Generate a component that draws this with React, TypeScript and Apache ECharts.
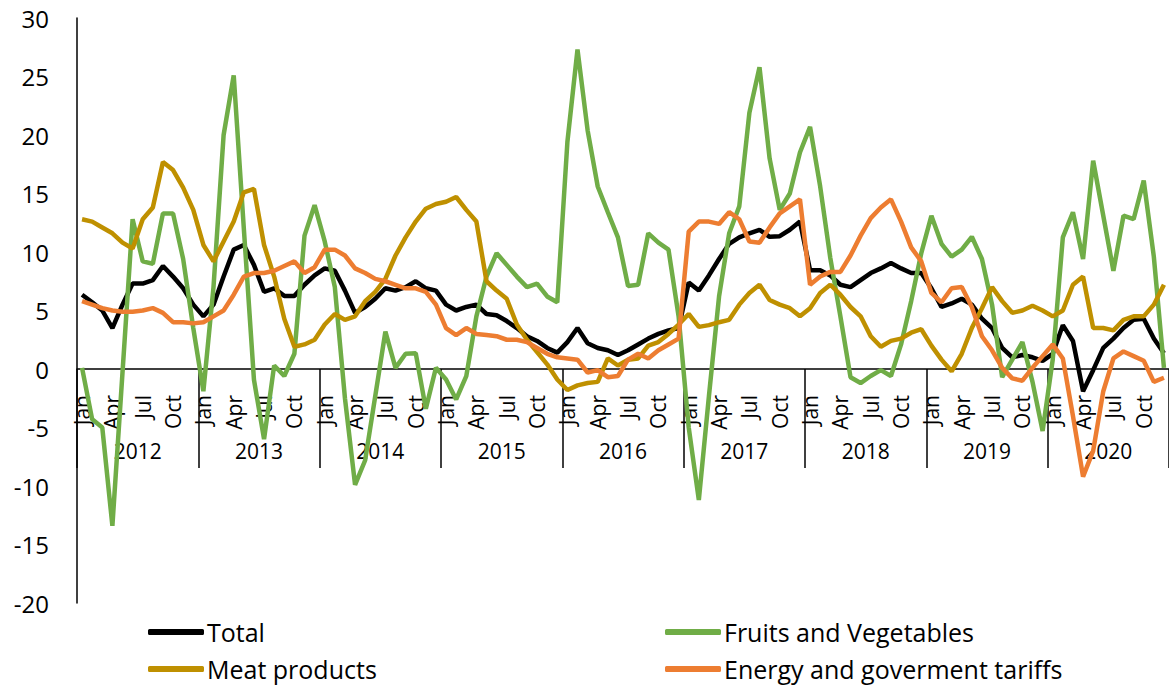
import React, { useEffect, useRef } from "react";
import * as echarts from "echarts";

const years = ["2012", "2013", "2014", "2015", "2016", "2017", "2018", "2019", "2020"];
const monthNames = ["Jan", "Feb", "Mar", "Apr", "May", "Jun", "Jul", "Aug", "Sep", "Oct", "Nov", "Dec"];
const categories: string[] = [];
years.forEach((y) => monthNames.forEach((m) => categories.push(m + " " + y)));

const total = [
  6.35, 5.7, 5.0, 3.5, 5.5, 7.3, 7.3, 7.6, 8.8, 7.9, 6.9, 5.5,
  4.5, 5.5, 7.9, 10.2, 10.6, 8.9, 6.6, 6.9, 6.25, 6.25, 7.2, 8.0,
  8.6, 8.4, 6.7, 4.8, 5.3, 6.0, 6.9, 6.7, 7.0, 7.5, 6.9, 6.7,
  5.5, 5.0, 5.3, 5.5, 4.7, 4.6, 4.1, 3.5, 2.8, 2.4, 1.8, 1.4,
  2.3, 3.5, 2.2, 1.8, 1.6, 1.2, 1.6, 2.1, 2.6, 3.0, 3.3, 3.5,
  7.4, 6.7, 8.0, 9.4, 10.7, 11.25, 11.6, 11.9, 11.3, 11.35, 11.9, 12.6,
  8.45, 8.45, 8.0, 7.2, 7.0, 7.6, 8.2, 8.6, 9.05, 8.6, 8.2, 8.2,
  6.9, 5.3, 5.6, 6.0, 5.5, 4.3, 3.5, 1.8, 1.0, 1.2, 1.0, 0.7,
  1.3, 3.75, 2.4, -1.9, -0.1, 1.8, 2.6, 3.5, 4.2, 4.3, 2.6, 1.35,
];

const fruits = [
  0.1, -4.3, -5.0, -13.4, -0.3, 12.8, 9.2, 9.0, 13.3, 13.3, 9.4, 3.5,
  -1.9, 7.0, 20.0, 25.1, 12.0, -0.9, -6.0, 0.3, -0.6, 1.3, 11.4, 14.0,
  10.9, 7.0, -2.5, -9.9, -7.8, -2.3, 3.2, 0.1, 1.3, 1.35, -3.4, 0.1,
  -0.9, -2.6, -0.6, 4.5, 7.9, 9.9, 8.9, 7.9, 7.0, 7.3, 6.2, 5.7,
  19.4, 27.3, 20.4, 15.6, 13.4, 11.25, 7.1, 7.2, 11.6, 10.8, 10.2, 4.5,
  -5.0, -11.2, -2.3, 6.2, 11.6, 13.9, 21.9, 25.8, 18.0, 13.6, 15.0, 18.5,
  20.7, 15.6, 9.5, 4.5, -0.7, -1.2, -0.6, -0.1, -0.6, 2.1, 5.8, 9.9,
  13.1, 10.7, 9.6, 10.2, 11.3, 9.4, 5.5, -0.7, 0.8, 2.3, -1.1, -5.3,
  0.8, 11.25, 13.4, 9.4, 17.8, 13.1, 8.4, 13.1, 12.8, 16.1, 9.6, 0.1,
];

const meat = [
  12.8, 12.6, 12.1, 11.6, 10.8, 10.3, 12.8, 13.8, 17.7, 17.0, 15.5, 13.6,
  10.6, 9.2, 10.9, 12.6, 15.1, 15.4, 10.6, 7.9, 4.3, 1.9, 2.1, 2.5,
  3.8, 4.7, 4.2, 4.5, 5.8, 6.6, 7.7, 9.7, 11.25, 12.6, 13.7, 14.1,
  14.3, 14.7, 13.6, 12.6, 7.5, 6.7, 6.0, 3.8, 2.5, 1.45, 0.4, -0.9,
  -1.8, -1.4, -1.2, -1.1, 0.9, 0.3, 0.8, 0.9, 2.0, 2.3, 3.0, 3.8,
  4.7, 3.6, 3.75, 4.0, 4.2, 5.5, 6.5, 7.2, 5.9, 5.5, 5.2, 4.5,
  5.2, 6.5, 7.2, 6.35, 5.3, 4.5, 2.8, 1.9, 2.4, 2.6, 3.1, 3.4,
  2.0, 0.8, -0.2, 1.3, 3.5, 5.2, 7.0, 5.8, 4.8, 5.0, 5.4, 5.0,
  4.5, 5.0, 7.2, 7.9, 3.5, 3.5, 3.3, 4.2, 4.5, 4.5, 5.5, 7.2,
];

const energy = [
  5.8, 5.5, 5.2, 5.0, 4.9, 4.9, 5.0, 5.2, 4.8, 4.0, 4.0, 3.9,
  4.0, 4.5, 5.0, 6.35, 7.9, 8.2, 8.2, 8.4, 8.8, 9.2, 8.2, 8.7,
  10.2, 10.2, 9.7, 8.6, 8.2, 7.7, 7.5, 7.2, 6.9, 6.9, 6.6, 5.5,
  3.5, 2.9, 3.5, 3.0, 2.9, 2.8, 2.5, 2.5, 2.3, 1.8, 1.3, 1.0,
  0.9, 0.8, -0.3, -0.1, -0.7, -0.6, 0.8, 1.3, 0.9, 1.6, 2.1, 2.6,
  11.75, 12.6, 12.6, 12.4, 13.4, 12.8, 10.9, 10.8, 12.1, 13.3, 13.9, 14.5,
  7.2, 7.9, 8.3, 8.3, 9.7, 11.4, 12.9, 13.8, 14.5, 12.6, 10.4, 9.2,
  6.5, 5.7, 6.9, 7.0, 5.3, 2.8, 1.6, 0.1, -0.8, -1.0, 0.1, 1.1,
  2.1, 0.9, -4.0, -9.2, -7.0, -1.9, 0.9, 1.5, 1.1, 0.7, -1.1, -0.75,
];

const seriesNames = ["Total", "Fruits and Vegetables", "Meat products", "Energy and goverment tariffs"];
const seriesColors = ["#000000", "#70AD47", "#BF9000", "#ED7D31"];
const seriesData = [total, fruits, meat, energy];

const FONT = "'Open Sans', Carlito, Calibri, sans-serif";
const Y_MIN = -20;
const Y_MAX = 30;

export default function App() {
  const ref = useRef<HTMLDivElement>(null);
  useEffect(() => {
    if (!ref.current) return;
    const chart = echarts.init(ref.current, undefined, { renderer: "svg" });
    const H = 688;
    const gridTop = 18;
    const gridBottom = 85;
    const plotH = H - gridTop - gridBottom;
    // pixel position of the zero line, derived from the y scale
    const zeroY = gridTop + (plotH * (Y_MAX - 0)) / (Y_MAX - Y_MIN);
    const legendBase = {
      orient: "vertical",
      top: 619,
      padding: 0,
      itemWidth: 56,
      itemHeight: 6,
      itemGap: 11,
      icon: "roundRect",
      textStyle: { fontSize: 25, color: "#000", fontFamily: FONT, lineHeight: 26, padding: [0, 0, 0, -2] },
    };
    chart.setOption({
      animation: false,
      textStyle: { fontFamily: FONT },
      grid: [
        { left: 77, right: 0, top: gridTop, bottom: gridBottom },
        { left: 77, right: 0, top: gridTop, bottom: H - zeroY },
      ],
      legend: [
        { ...legendBase, left: 148, data: [seriesNames[0], seriesNames[2]] },
        { ...legendBase, left: 665, data: [seriesNames[1], seriesNames[3]] },
      ],
      xAxis: [
        {
          type: "category",
          gridIndex: 0,
          data: categories,
          boundaryGap: true,
          axisLine: { show: false },
          axisTick: { show: false },
          axisLabel: { show: false },
          splitLine: { show: false },
        },
        {
          type: "category",
          gridIndex: 1,
          data: categories,
          position: "bottom",
          boundaryGap: true,
          axisLine: { show: true, onZero: false, lineStyle: { color: "#000", width: 1.5 } },
          axisTick: {
            show: true,
            interval: (i: number) => i % 12 === 0,
            length: 99,
            lineStyle: { color: "#000", width: 1.5 },
          },
          axisLabel: {
            interval: (i: number) => i % 3 === 0,
            rotate: 90,
            margin: 26,
            fontSize: 21,
            color: "#000",
            fontFamily: FONT,
            formatter: (v: string) => v.split(" ")[0],
          },
          splitLine: { show: false },
        },
        {
          type: "category",
          gridIndex: 1,
          data: years,
          position: "bottom",
          boundaryGap: true,
          axisLine: { show: false, onZero: false },
          axisTick: { show: false },
          axisLabel: {
            margin: 82,
            verticalAlign: "middle",
            fontSize: 21,
            color: "#000",
            fontFamily: FONT,
            interval: 0,
          },
          splitLine: { show: false },
        },
      ],
      yAxis: [
        {
          type: "value",
          gridIndex: 0,
          min: Y_MIN,
          max: Y_MAX,
          interval: 5,
          axisLine: { show: true, lineStyle: { color: "#000", width: 1.5 } },
          axisTick: { show: false },
          splitLine: { show: false },
          axisLabel: { fontSize: 24, color: "#000", margin: 28, fontFamily: FONT },
        },
        {
          type: "value",
          gridIndex: 1,
          min: 0,
          max: Y_MAX,
          show: false,
          splitLine: { show: false },
        },
      ],
      series: seriesNames.map((name, k) => ({
        name,
        type: "line",
        xAxisIndex: 0,
        yAxisIndex: 0,
        data: seriesData[k],
        showSymbol: false,
        symbol: "none",
        color: seriesColors[k],
        lineStyle: { width: 4.5, color: seriesColors[k] },
        z: 2 + k,
      })),
    });
    return () => chart.dispose();
  }, []);
  return (
    <div
      ref={ref}
      style={{ position: "absolute", left: 0, top: 0, width: 1169, height: 688, background: "#fff" }}
    />
  );
}
